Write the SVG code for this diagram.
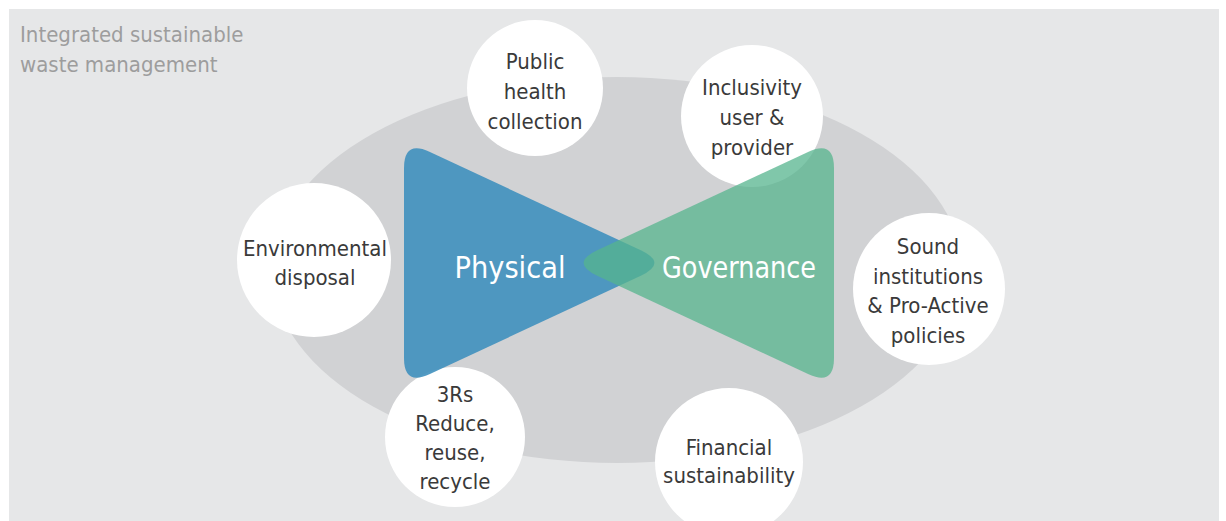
<svg xmlns="http://www.w3.org/2000/svg" width="1226" height="521" viewBox="0 0 1226 521">
<style>
.bg{fill:#e6e7e8}
.ring{fill:#d1d2d4}
.c{fill:#ffffff}
.t{font-family:'DejaVu Sans Condensed','DejaVu Sans',sans-serif;font-stretch:condensed;font-size:22px;fill:#3a3a3a;text-anchor:middle}
.title{font-family:'DejaVu Sans Condensed','DejaVu Sans',sans-serif;font-stretch:condensed;font-size:22px;fill:#9d9d9d}
.big{font-family:'DejaVu Sans Condensed','DejaVu Sans',sans-serif;font-stretch:condensed;font-size:31px;fill:#ffffff;text-anchor:middle}
.blue{fill:#3f90be;fill-opacity:0.9}
.green{fill:#55b48e;fill-opacity:0.75}
</style>
<rect class="bg" x="9" y="9" width="1210" height="512"/>
<g id="title">
<text class="title" x="20" y="42">Integrated sustainable</text>
<text class="title" x="20" y="72">waste management</text>
</g>
<ellipse id="ring" class="ring" cx="617" cy="270" rx="345" ry="193"/>
<g id="public-health">
<circle class="c" cx="535" cy="88" r="68"/>
<text class="t" x="535" y="69">Public</text>
<text class="t" x="535" y="99">health</text>
<text class="t" x="535" y="129">collection</text>
</g>
<g id="inclusivity">
<circle class="c" cx="752" cy="116" r="71"/>
<text class="t" x="752" y="95">Inclusivity</text>
<text class="t" x="752" y="125">user &amp;</text>
<text class="t" x="752" y="155">provider</text>
</g>
<g id="environmental">
<circle class="c" cx="314" cy="260" r="77"/>
<text class="t" x="315" y="256">Environmental</text>
<text class="t" x="315" y="285">disposal</text>
</g>
<g id="sound-institutions">
<circle class="c" cx="929" cy="289" r="76"/>
<text class="t" x="928" y="254">Sound</text>
<text class="t" x="928" y="284">institutions</text>
<text class="t" x="928" y="313">&amp; Pro-Active</text>
<text class="t" x="928" y="343">policies</text>
</g>
<g id="three-rs">
<circle class="c" cx="455" cy="437" r="70"/>
<text class="t" x="455" y="402">3Rs</text>
<text class="t" x="455" y="431">Reduce,</text>
<text class="t" x="455" y="460">reuse,</text>
<text class="t" x="455" y="489">recycle</text>
</g>
<g id="financial">
<circle class="c" cx="729" cy="462" r="74"/>
<text class="t" x="729" y="455">Financial</text>
<text class="t" x="729" y="483">sustainability</text>
</g>
<g id="physical">
<path class="blue" d="M404,168 Q404,140 429.4,151.8 L640.8,250.3 Q668,263 640.8,275.7 L429.4,374.2 Q404,386 404,358 Z"/>
<text class="big" x="510" y="278" textLength="111" lengthAdjust="spacingAndGlyphs">Physical</text>
</g>
<g id="governance">
<path class="green" d="M834,168 Q834,140 808.6,151.8 L597.2,250.3 Q570,263 597.2,275.7 L808.6,374.2 Q834,386 834,358 Z"/>
<text class="big" x="739" y="278" textLength="154" lengthAdjust="spacingAndGlyphs">Governance</text>
</g>
<g id="connectors"/>
</svg>
